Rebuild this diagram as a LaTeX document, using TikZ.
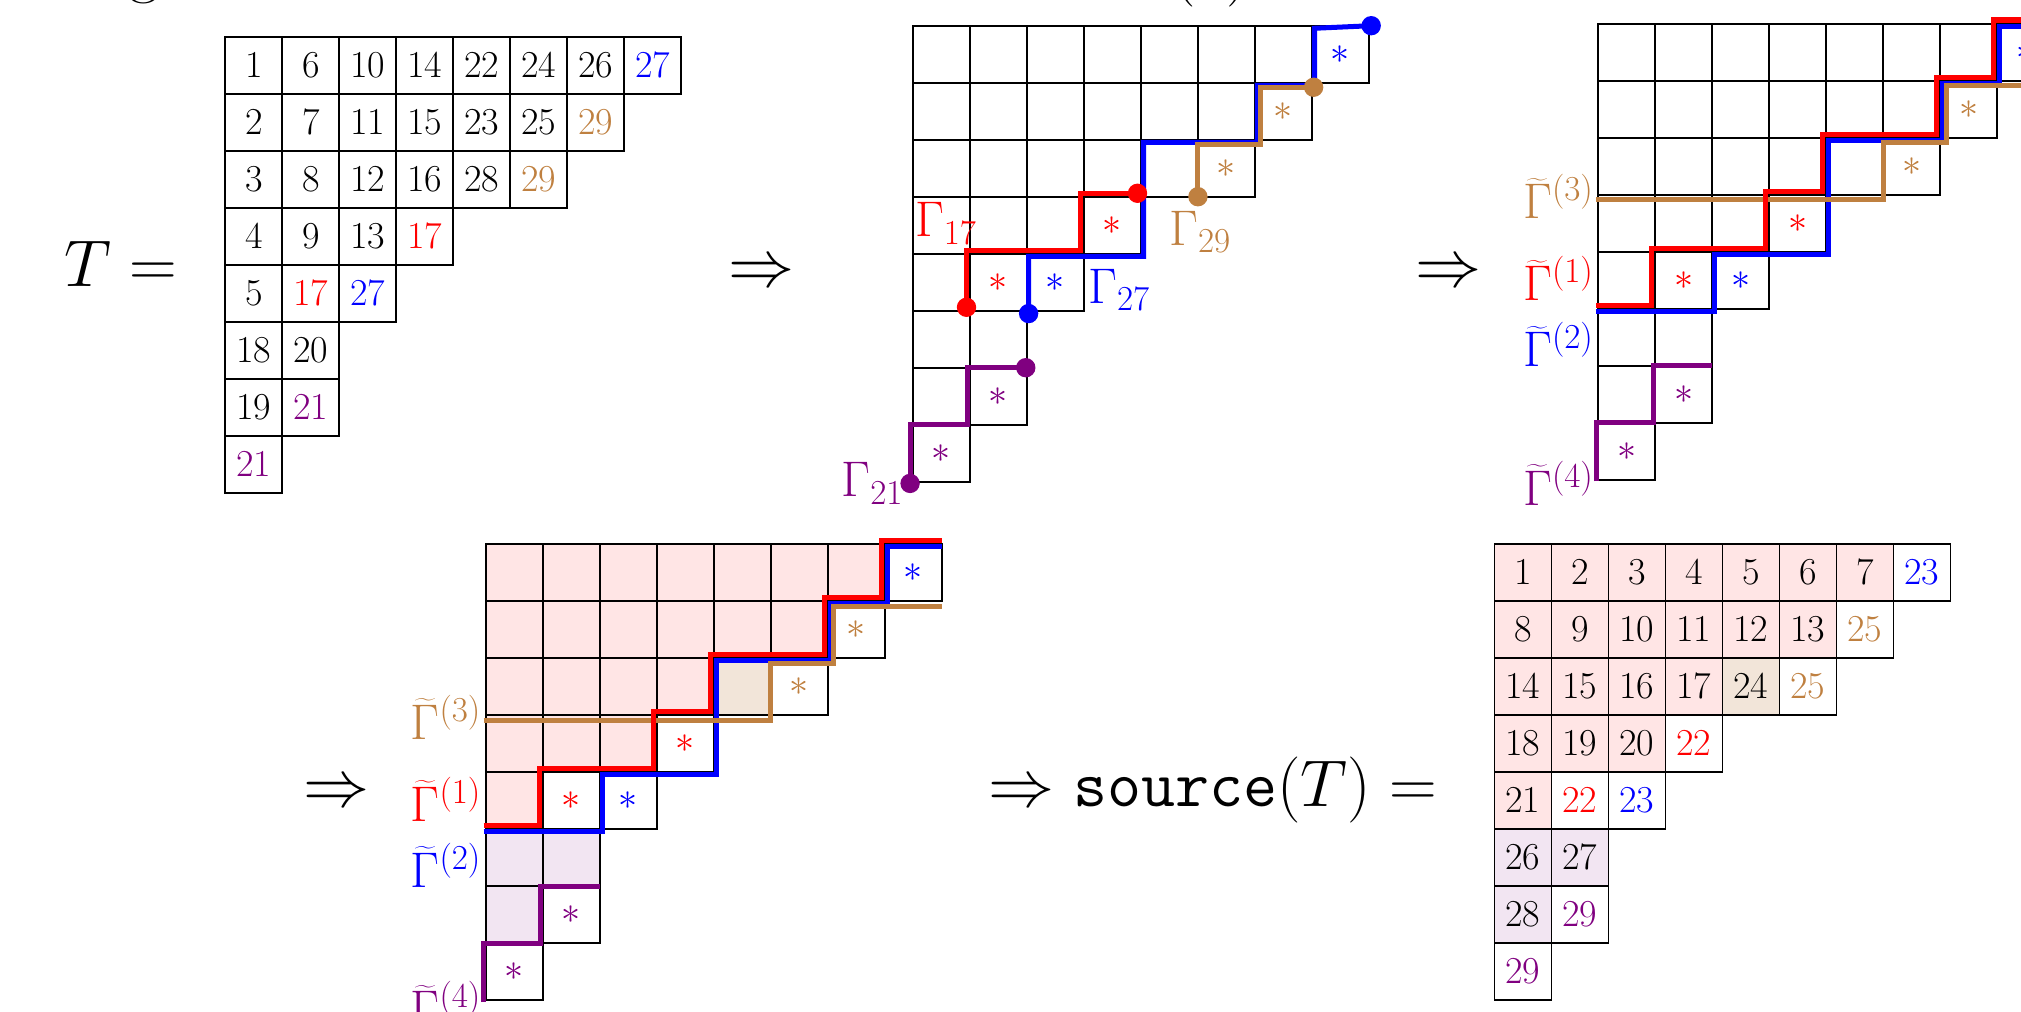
\RequirePackage{fix-cm}
\documentclass[tikz,border=0pt]{standalone}
\newcommand\cellfont{\fontsize{19}{23}\selectfont}
\newcommand\labfont{\fontsize{25}{30}\selectfont}
\newcommand\bigfont{\fontsize{33}{40}\selectfont}
\colorlet{pinkfill}{red!10}
\colorlet{beigefill}{brown!20}
\colorlet{violetfill}{violet!10}
\tikzset{
  gridline/.style={line width=0.9pt},
  cell/.style={inner sep=0pt, font=\cellfont},
  pth/.style={line width=2.5pt},
  dot/.style={circle, inner sep=0pt, minimum size=0.34cm, fill=#1},
  lab/.style={inner sep=0pt, font=\labfont},
  big/.style={inner sep=0pt, font=\bigfont, anchor=base west},
}
\newcommand\youngshape{%
  \foreach \r/\n in {1/8,2/7,3/6,4/4,5/3,6/2,7/2,8/1}{%
    \foreach \c in {1,...,\n}{\draw[gridline] (\c-1,1-\r) rectangle (\c,-\r);}}}
\newcommand\shadecells{%
  \foreach \r/\n in {1/7,2/6,3/4,4/3,5/1}{%
    \foreach \c in {1,...,\n}{\fill[pinkfill] (\c-1,1-\r) rectangle (\c,-\r);}}
  \fill[beigefill] (4,-2) rectangle (5,-3);
  \fill[violetfill] (0,-5) rectangle (2,-6);
  \fill[violetfill] (0,-6) rectangle (1,-7);}
\newcommand\fillrow[3]{%
  \foreach \v [count=\c] in {#3}{\node[cell] (#1-#2-\c) at (\c-0.5,0.5-#2) {\v};}}
\newcommand\stars[1]{%
  \node[cell,blue] (#1-s1) at (7.5,-0.5) {$*$};
  \node[cell,brown] (#1-s2) at (6.5,-1.5) {$*$};
  \node[cell,brown] (#1-s3) at (5.5,-2.5) {$*$};
  \node[cell,red] (#1-s4) at (3.5,-3.5) {$*$};
  \node[cell,red] (#1-s5) at (1.5,-4.5) {$*$};
  \node[cell,blue] (#1-s6) at (2.5,-4.5) {$*$};
  \node[cell,violet] (#1-s7) at (1.5,-6.5) {$*$};
  \node[cell,violet] (#1-s8) at (0.5,-7.5) {$*$};}
\newcommand\tildepaths[1]{%
  \draw[pth,blue] (-0.04,-5.045) -- (2.045,-5.045) -- (2.045,-4.045) -- (4.045,-4.045) -- (4.045,-2.045) -- (6.045,-2.045) -- (6.045,-1.045) -- (7.045,-1.045) -- (7.045,-0.045) -- (8,-0.045);
  \draw[pth,brown] (-0.04,-3.09) -- (5,-3.09) -- (5,-2.09) -- (6.1,-2.09) -- (6.1,-1.09) -- (8,-1.09);
  \draw[pth,red] (-0.04,-4.94) -- (0.94,-4.94) -- (0.94,-3.94) -- (2.94,-3.94) -- (2.94,-2.94) -- (3.94,-2.94) -- (3.94,-1.94) -- (5.94,-1.94) -- (5.94,-0.94) -- (6.94,-0.94) -- (6.94,0.065) -- (8,0.065);
  \draw[pth,violet] (-0.04,-8.03) -- (-0.04,-7) -- (0.96,-7) -- (0.96,-6) -- (2,-6);
  \node[lab,brown,anchor=base east] (#1-l3) at (-0.07,-3.42) {$\widetilde{\Gamma}^{(3)}$};
  \node[lab,red,anchor=base east] (#1-l1) at (-0.07,-4.86) {$\widetilde{\Gamma}^{(1)}$};
  \node[lab,blue,anchor=base east] (#1-l2) at (-0.07,-6.02) {$\widetilde{\Gamma}^{(2)}$};
  \node[lab,violet,anchor=base east] (#1-l4) at (-0.07,-8.45) {$\widetilde{\Gamma}^{(4)}$};}
\begin{document}
\begin{tikzpicture}
\useasboundingbox (0,0) rectangle (35.456,-17.754);
% fragments of a line above the picture
\node[big] (frag1) at (2.25,0.172) {g};
\node[big] (frag2) at (20.56,0.172) {$(\phantom{1})$};
% T =
\node[big] (Tlab) at (1.12,-5.02) {$T=$};
\begin{scope}[shift={(3.954,-0.644)}]
  \youngshape
  \fillrow{a}{1}{1,6,10,14,22,24,26,\textcolor{blue}{27}}
  \fillrow{a}{2}{2,7,11,15,23,25,\textcolor{brown}{29}}
  \fillrow{a}{3}{3,8,12,16,28,\textcolor{brown}{29}}
  \fillrow{a}{4}{4,9,13,\textcolor{red}{17}}
  \fillrow{a}{5}{5,\textcolor{red}{17},\textcolor{blue}{27}}
  \fillrow{a}{6}{18,20}
  \fillrow{a}{7}{19,\textcolor{violet}{21}}
  \fillrow{a}{8}{\textcolor{violet}{21}}
\end{scope}
\node[big] (arr1) at (12.77,-5.02) {$\Rightarrow$};
% grid 2
\begin{scope}[shift={(16.016,-0.451)}]
  \youngshape
  \stars{b}
  \node[dot=blue] (b-bl1) at (8.04,-0.0) {};
  \node[dot=blue] (b-bl2) at (2.03,-5.05) {};
  \draw[pth,blue] (b-bl1.center) -- (7.045,-0.045) -- (7.045,-1.045) -- (6.045,-1.045) -- (6.045,-2.045) -- (4.045,-2.045) -- (4.045,-4.045) -- (2.03,-4.045) -- (b-bl2.center);
  \node[dot=brown] (b-br1) at (7.03,-1.08) {};
  \node[dot=brown] (b-br2) at (5.0,-3.0) {};
  \draw[pth,brown] (b-br1.center) -- (6.1,-1.08) -- (6.1,-2.08) -- (5.0,-2.08) -- (b-br2.center);
  \node[dot=red] (b-rd1) at (3.94,-2.94) {};
  \node[dot=red] (b-rd2) at (0.94,-4.94) {};
  \draw[pth,red] (b-rd1.center) -- (2.94,-2.94) -- (2.94,-3.94) -- (0.94,-3.94) -- (b-rd2.center);
  \node[dot=violet] (b-vi1) at (1.98,-6) {};
  \node[dot=violet] (b-vi2) at (-0.05,-8.03) {};
  \draw[pth,violet] (b-vi1.center) -- (0.96,-6) -- (0.96,-7) -- (-0.05,-7) -- (b-vi2.center);
  \node[lab,red,anchor=base west] (b-l17) at (0.03,-3.70) {$\Gamma_{17}$};
  \node[lab,blue,anchor=base west] (b-l27) at (3.07,-4.87) {$\Gamma_{27}$};
  \node[lab,brown,anchor=base west] (b-l29) at (4.49,-3.85) {$\Gamma_{29}$};
  \node[lab,violet,anchor=base west] (b-l21) at (-1.26,-8.26) {$\Gamma_{21}$};
\end{scope}
\node[big] (arr2) at (24.83,-5.02) {$\Rightarrow$};
% grid 3
\begin{scope}[shift={(28.04,-0.416)}]
  \youngshape
  \stars{c}
  \tildepaths{c}
\end{scope}
% bottom row
\node[big] (arr3) at (5.31,-14.15) {$\Rightarrow$};
\begin{scope}[shift={(8.523,-9.549)}]
  \shadecells
  \youngshape
  \stars{d}
  \tildepaths{d}
\end{scope}
\node[big] (src) at (17.34,-14.15) {$\Rightarrow\texttt{source}(T)=$};
\begin{scope}[shift={(26.218,-9.539)}]
  \shadecells
  \youngshape
  \fillrow{e}{1}{1,2,3,4,5,6,7,\textcolor{blue}{23}}
  \fillrow{e}{2}{8,9,10,11,12,13,\textcolor{brown}{25}}
  \fillrow{e}{3}{14,15,16,17,24,\textcolor{brown}{25}}
  \fillrow{e}{4}{18,19,20,\textcolor{red}{22}}
  \fillrow{e}{5}{21,\textcolor{red}{22},\textcolor{blue}{23}}
  \fillrow{e}{6}{26,27}
  \fillrow{e}{7}{28,\textcolor{violet}{29}}
  \fillrow{e}{8}{\textcolor{violet}{29}}
\end{scope}
\end{tikzpicture}
\end{document}
